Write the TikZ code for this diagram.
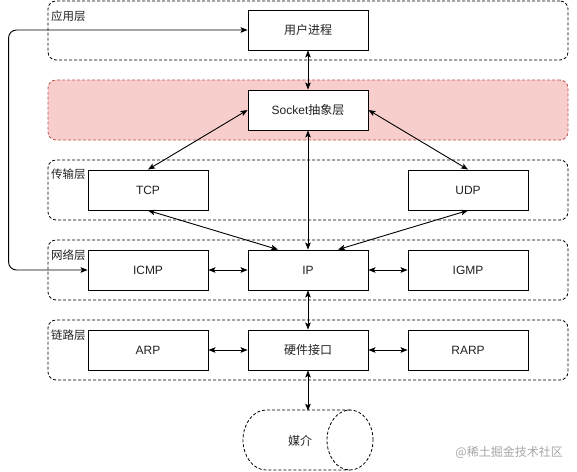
\documentclass[tikz,border=0pt]{standalone}
\usepackage{fontspec}
\setmainfont{Liberation Sans}
\newfontfamily\cjk{Noto Sans CJK SC}
\usetikzlibrary{arrows.meta,calc}
\definecolor{sockfill}{HTML}{F8CECC}
\definecolor{sockline}{HTML}{B85450}
\definecolor{txt}{HTML}{222222}
\begin{document}
\begin{tikzpicture}[x=1pt,y=-1pt,
 box/.style={draw, line width=0.9pt, fill=white, minimum width=120pt, minimum height=40pt, inner sep=0pt, text=txt, font=\fontsize{12}{14}\selectfont},
 layer/.style={draw, dash pattern=on 3pt off 2pt, line width=0.8pt, rounded corners=8pt, minimum width=520pt, minimum height=60pt, inner sep=0pt},
 lab/.style={anchor=west, inner sep=0pt, text=txt, font=\cjk\fontsize{11.5}{13}\selectfont},
 conn/.style={line width=0.9pt, {Stealth[length=7pt,width=5.5pt,inset=1.5pt]}-{Stealth[length=7pt,width=5.5pt,inset=1.5pt]}}]
\useasboundingbox (0,0) rectangle (577,471);
% layers
\node[layer, minimum height=59pt] (lapp) at (308,30.5) {};
\node[layer, draw=sockline, fill=sockfill] (lsock) at (308,110) {};
\node[layer] (ltrans) at (308,190) {};
\node[layer] (lnet) at (308,270) {};
\node[layer] (llink) at (308,350) {};
\node[lab] (tapp) at (51,16) {应用层};
\node[lab] (ttrans) at (51,174) {传输层};
\node[lab] (tnet) at (51,255) {网络层};
\node[lab] (tlink) at (51,335) {链路层};
% boxes
\node[box] (user) at (308,30) {\cjk 用户进程};
\node[box] (sock) at (308,110) {Socket\cjk 抽象层};
\node[box] (tcp) at (148,190) {TCP};
\node[box] (udp) at (468,190) {UDP};
\node[box] (icmp) at (148,270) {ICMP};
\node[box] (ip) at (308,270) {IP};
\node[box] (igmp) at (468,270) {IGMP};
\node[box] (arp) at (148,350) {ARP};
\node[box] (hw) at (308,350) {\cjk 硬件接口};
\node[box] (rarp) at (468,350) {RARP};
% medium cylinder
\draw[dash pattern=on 3pt off 2pt, line width=0.8pt] (350,410) -- (266,410) arc[start angle=90,end angle=270,x radius=23pt,y radius=30pt] -- (350,470);
\draw[dash pattern=on 3pt off 2pt, line width=0.8pt] (350,440) ellipse[x radius=23pt,y radius=30pt];
\node[minimum width=130pt, minimum height=60pt, inner sep=0pt, text=txt, font=\cjk\fontsize{12}{14}\selectfont] (media) at (300,441) {媒介};
% connectors
\draw[conn] (user.south) -- (sock.north);
\draw[conn] (sock.west) -- (tcp.north);
\draw[conn] (sock.east) -- (udp.north);
\draw[conn] (sock.south) -- (ip.north);
\draw[conn] (tcp.south) -- ($(ip.north)+(-30,0)$);
\draw[conn] (udp.south) -- ($(ip.north)+(30,0)$);
\draw[conn] (icmp.east) -- (ip.west);
\draw[conn] (ip.east) -- (igmp.west);
\draw[conn] (ip.south) -- (hw.north);
\draw[conn] (arp.east) -- (hw.west);
\draw[conn] (hw.east) -- (rarp.west);
\draw[conn] (hw.south) -- (hw.south |- media.north);
\draw[conn, rounded corners=8pt] (icmp.west) -- ++(-79,0) |- (user.west);
% watermark
\node[anchor=east, inner sep=0pt, text=black!35, font=\cjk\fontsize{12}{14}\selectfont] (wm) at (563,452) {@稀土掘金技术社区};
\end{tikzpicture}
\end{document}
